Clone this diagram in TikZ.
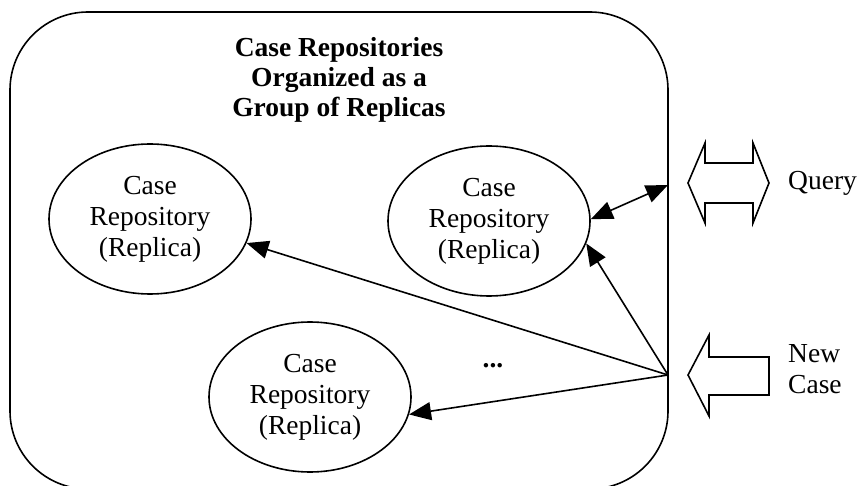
\documentclass[tikz,border=0pt]{standalone}
\usepackage{fontspec}
\setmainfont{Liberation Serif}
\usetikzlibrary{arrows.meta,shapes.geometric}

\tikzset{
  outline/.style={line width=1.6pt},
  replica/.style={outline, draw, ellipse, minimum width=202pt, minimum height=150pt,
    inner sep=0pt, align=center, font=\fontsize{27.5}{31}\selectfont},
  label/.style={inner sep=0pt, font=\fontsize{27.5}{31}\selectfont},
  flow/.style={outline, -{Triangle[length=22pt,width=18pt]}},
  biflow/.style={outline, {Triangle[length=22pt,width=18pt]}-{Triangle[length=22pt,width=18pt]}},
  fatarrow/.style={outline, draw, line join=miter},
}

\begin{document}
\begin{tikzpicture}[x=1pt,y=-1pt]
  \useasboundingbox (0,0) rectangle (859,486);

  % group of replicas (its lower edge runs just past the page)
  \node[outline, draw, rounded corners=78pt, minimum width=658pt, minimum height=477pt,
        inner sep=0pt] (group) at (339,250.5) {};
  \node[label, align=center, font=\fontsize{27.5}{30}\selectfont\bfseries] (title) at (339,80)
    {Case Repositories\\Organized as a\\Group of Replicas};

  % replicas
  \node[replica] (repA) at (150,219) {Case\\Repository\\(Replica)};
  \node[replica] (repB) at (489,221) {Case\\Repository\\(Replica)};
  \node[replica] (repC) at (310,397) {Case\\Repository\\(Replica)};
  \node[label, font=\fontsize{27.5}{31}\selectfont\bfseries] (more) at (493,366) {...};

  % entry points on the group border
  \coordinate (hub) at (668,375);
  \coordinate (port) at (668,185);

  \draw[flow] (hub) -- (repA.-14);
  \draw[flow] (hub) -- (repB.-13);
  \draw[flow] (hub) -- (repC.-10);
  \draw[biflow] (repB.1) -- (port);

  % query: two-way block arrow
  \draw[fatarrow] (688,183) -- (705,143) -- (705,163) -- (753,163) -- (753,143)
    -- (769,183) -- (753,223) -- (753,203) -- (705,203) -- (705,223) -- cycle;
  \node[label, anchor=west] (query) at (788,183) {Query};

  % new case: block arrow pointing left
  \draw[fatarrow] (688,375) -- (709,335) -- (709,357) -- (769,357) -- (769,395)
    -- (709,395) -- (709,416) -- cycle;
  \node[label, anchor=west, align=left] (newcase) at (788,369) {New\\Case};
\end{tikzpicture}
\end{document}
